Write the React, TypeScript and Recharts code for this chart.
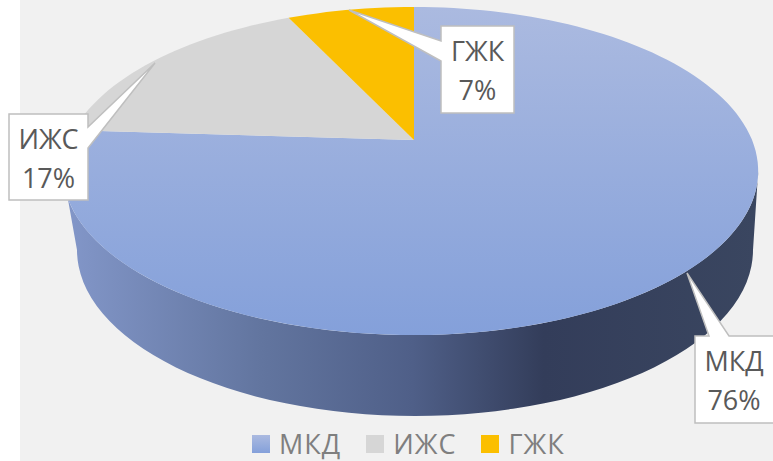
import { PieChart, Pie, Cell, Legend } from 'recharts'

const categories = ['МКД', 'ИЖС', 'ГЖК']
const shares = [76, 17, 7]
const colours = ['url(#topFill)', '#d6d6d6', '#fbbf00']

const data = categories.map((name, i) => ({ name, value: shares[i] }))

// callout boxes: x, y, w, h, pointer tip, and the two points where the pointer leaves the box
const CALLOUTS: Record<string, { x: number; y: number; w: number; h: number; tip: number[]; side: string; a: number; b: number }> = {
  МКД: { x: 695, y: 336, w: 80, h: 87, tip: [687, 273], side: 'top', a: 709, b: 729 },
  ИЖС: { x: 9, y: 114, w: 79, h: 86, tip: [155, 63], side: 'right', a: 127, b: 148 },
  ГЖК: { x: 441, y: 26, w: 73, h: 87, tip: [349, 10], side: 'left', a: 41, b: 61 },
}

// fake perspective: the flat pie is tilted and the far edge shrinks
const TILT = 0.468
const PERSP = 0.189
const LEFT_STRETCH = 1.02

function project(cx: number, cy: number, r: number, deg: number) {
  const u = Math.cos((deg * Math.PI) / 180)
  const v = Math.sin((deg * Math.PI) / 180)
  const w = 1 + PERSP * v
  const side = u < 0 ? LEFT_STRETCH : 1
  return [cx + (r * u * side) / w, cy - (r * TILT * v) / w]
}

function arcPoints(cx: number, cy: number, r: number, from: number, to: number) {
  const steps = Math.ceil(Math.abs(to - from) / 2)
  const pts: string[] = []
  for (let i = 0; i <= steps; i++) {
    const p = project(cx, cy, r, from + ((to - from) * i) / steps)
    pts.push(`${p[0].toFixed(1)} ${p[1].toFixed(1)}`)
  }
  return pts
}

function TiltedSlice(props: any) {
  const { cx, cy, outerRadius, startAngle, endAngle, fill, name } = props
  const slice = `M${cx} ${cy}L${arcPoints(cx, cy, outerRadius, startAngle, endAngle).join('L')}Z`
  const wallTop = arcPoints(cx, cy, outerRadius, -169.1, -10.9)
  const wall = `M${wallTop.join('L')}L753 250A338 166 0 0 1 77 250Z`
  return (
    <g>
      {name === categories[0] && <path d={wall} fill="url(#wallFill)" />}
      <path d={slice} fill={fill} />
    </g>
  )
}

function Callout(props: any) {
  const { name, percent } = props
  const c = CALLOUTS[name]
  if (!c) return null
  const [tx, ty] = c.tip
  const r = c.x + c.w
  const btm = c.y + c.h
  let d = ''
  if (c.side === 'top') d = `M${c.x} ${c.y}L${c.a} ${c.y}L${tx} ${ty}L${c.b} ${c.y}L${r} ${c.y}L${r} ${btm}L${c.x} ${btm}Z`
  if (c.side === 'right') d = `M${c.x} ${c.y}L${r} ${c.y}L${r} ${c.a}L${tx} ${ty}L${r} ${c.b}L${r} ${btm}L${c.x} ${btm}Z`
  if (c.side === 'left') d = `M${c.x} ${c.y}L${r} ${c.y}L${r} ${btm}L${c.x} ${btm}L${c.x} ${c.b}L${tx} ${ty}L${c.x} ${c.a}Z`
  const mid = c.x + c.w / 2 - (name === categories[0] ? 1 : 0)
  return (
    <g>
      <path d={d} fill="#fff" stroke="#bfbfbf" strokeWidth={1.5} />
      <text x={mid} y={c.y + 35} textAnchor="middle" fontSize={27} fill="#595959" fontFamily="Open Sans">{name}</text>
      <text x={mid} y={c.y + 74} textAnchor="middle" fontSize={27} fill="#595959" fontFamily="Open Sans">{Math.round(percent * 100)}%</text>
    </g>
  )
}

function LegendRow({ payload }: any) {
  return (
    <div style={{ position: 'absolute', left: 252, top: 0, display: 'flex', gap: 25, fontFamily: 'Open Sans', fontSize: 27, letterSpacing: 1, color: '#7f7f7f', lineHeight: '30px' }}>
      {(payload ?? []).map((p: any) => (
        <div key={p.value} style={{ display: 'flex', alignItems: 'center', gap: 9 }}>
          <svg width={18} height={18}>
            <rect width={18} height={18} fill={colours[categories.indexOf(p.value)]} />
          </svg>
          <span>{p.value}</span>
        </div>
      ))}
    </div>
  )
}

export default function App() {
  return (
    <div style={{ position: 'absolute', left: 0, top: 0, width: 773, height: 461, background: '#fff', overflow: 'hidden' }}>
      <div style={{ position: 'absolute', left: 20, top: 0, width: 753, height: 461, background: '#f1f1f1' }} />
      <div style={{ position: 'absolute', left: 0, top: 0 }}>
        <PieChart width={773} height={461} margin={{ top: 0, right: 0, bottom: 0, left: 0 }}>
          <defs>
            <linearGradient id="topFill" x1="0" y1="0" x2="0" y2="1">
              <stop offset="0%" stopColor="#abbae0" />
              <stop offset="100%" stopColor="#84a0da" />
            </linearGradient>
            <linearGradient id="wallFill" gradientUnits="userSpaceOnUse" x1="69" y1="0" x2="757" y2="0">
              <stop offset="0%" stopColor="#8296c8" />
              <stop offset="28%" stopColor="#62759f" />
              <stop offset="50%" stopColor="#4f5f88" />
              <stop offset="69%" stopColor="#333d5a" />
              <stop offset="100%" stopColor="#3a4660" />
            </linearGradient>
          </defs>
          <Pie
            data={data}
            dataKey="value"
            nameKey="name"
            cx={414}
            cy={140}
            innerRadius={0}
            outerRadius={338}
            startAngle={90}
            endAngle={-270}
            stroke="none"
            shape={TiltedSlice}
            label={Callout}
            labelLine={false}
            isAnimationActive={false}
          >
            {data.map((d, i) => (
              <Cell key={d.name} fill={colours[i]} />
            ))}
          </Pie>
          <Legend content={LegendRow} itemSorter={null} wrapperStyle={{ position: 'absolute', left: 0, top: 429, width: 773, height: 30 }} />
        </PieChart>
      </div>
    </div>
  )
}
